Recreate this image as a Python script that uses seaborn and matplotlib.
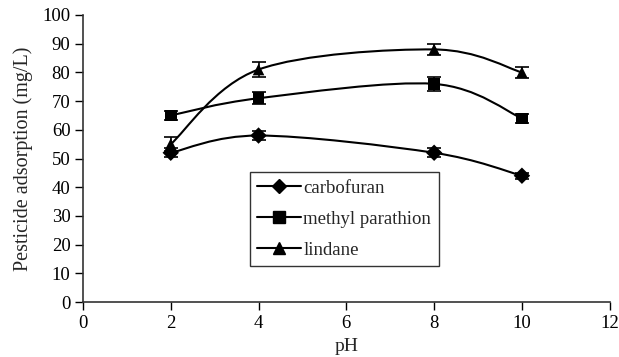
import numpy as np
import pandas as pd
import seaborn as sns
import matplotlib
matplotlib.use("Agg")
import matplotlib.pyplot as plt
from matplotlib.path import Path
from matplotlib.patches import PathPatch
from matplotlib.lines import Line2D

ph = [2, 4, 8, 10]
carbofuran = [52, 58, 52, 44]
carbofuran_err = [1.5, 1.5, 1.5, 1.0]
methyl_parathion = [65, 71, 76, 64]
methyl_parathion_err = [1.5, 2.0, 2.5, 1.5]
lindane = [55, 81, 88, 80]
lindane_err = [2.5, 2.5, 2.0, 2.0]
series_names = ["carbofuran", "methyl parathion", "lindane"]
markers = ["D", "s", "^"]
xticks = [0, 2, 4, 6, 8, 10, 12]
yticks = [0, 10, 20, 30, 40, 50, 60, 70, 80, 90, 100]

sns.set_style("ticks")
plt.rcParams["font.family"] = ["Liberation Serif", "DejaVu Serif"]

df = pd.DataFrame({
    "pH": ph * 3,
    "value": carbofuran + methyl_parathion + lindane,
    "err": carbofuran_err + methyl_parathion_err + lindane_err,
    "series": sum([[n] * len(ph) for n in series_names], []),
})

fig = plt.figure(figsize=(6.19, 3.57), dpi=100)
ax = fig.add_axes([0.134, 0.154, 0.851, 0.804])


def smooth_path(xs, ys):
    pts = np.column_stack([xs, ys]).astype(float)
    n = len(pts)
    verts = [pts[0]]
    codes = [Path.MOVETO]
    for i in range(n - 1):
        p0 = pts[i - 1] if i > 0 else pts[i]
        p1 = pts[i]
        p2 = pts[i + 1]
        p3 = pts[i + 2] if i + 2 < n else pts[i + 1]
        c1 = p1 + (p2 - p0) / 6.0
        c2 = p2 - (p3 - p1) / 6.0
        verts += [c1, c2, p2]
        codes += [Path.CURVE4] * 3
    return Path(verts, codes)


msizes = {"D": 7, "s": 8, "^": 9}
for name, m in zip(series_names, markers):
    sub = df[df.series == name]
    ax.add_patch(PathPatch(smooth_path(sub.pH.values, sub.value.values),
                           facecolor="none", edgecolor="black", lw=1.5, zorder=2))
    ax.errorbar(sub.pH, sub.value, yerr=sub.err, fmt="none", ecolor="black",
                elinewidth=1.2, capsize=5, capthick=1.2, zorder=3)

sns.scatterplot(data=df, x="pH", y="value", style="series", markers=dict(zip(series_names, markers)),
                color="black", s=70, edgecolor="black", linewidth=0, legend=False, ax=ax, zorder=4)

ax.set_xlim(0, 12)
ax.set_ylim(0, 100)
ax.set_xticks(xticks)
ax.set_yticks(yticks)
ax.tick_params(labelsize=13.5, direction="out", length=6, width=1, colors="black", pad=3)
ax.set_xlabel("pH", fontsize=14, labelpad=5)
ax.set_ylabel("Pesticide adsorption (mg/L)", fontsize=14.5, labelpad=7)
for s in ["top", "right"]:
    ax.spines[s].set_visible(False)
for s in ["left", "bottom"]:
    ax.spines[s].set_color("#333333")
    ax.spines[s].set_linewidth(1.2)

handles = [Line2D([0], [0], color="black", lw=1.5, marker=m, markersize=msizes[m],
                  markerfacecolor="black", markeredgecolor="black") for m in markers]
leg = ax.legend(handles, series_names, loc="upper left", bbox_to_anchor=(0.317, 0.453),
                borderaxespad=0, fontsize=13.5, frameon=True, fancybox=False,
                edgecolor="black", handlelength=2.3, labelspacing=0.75, borderpad=0.4,
                handletextpad=0.15)
leg.get_frame().set_linewidth(1.0)

fig.savefig("out.png", dpi=100, facecolor="white")
